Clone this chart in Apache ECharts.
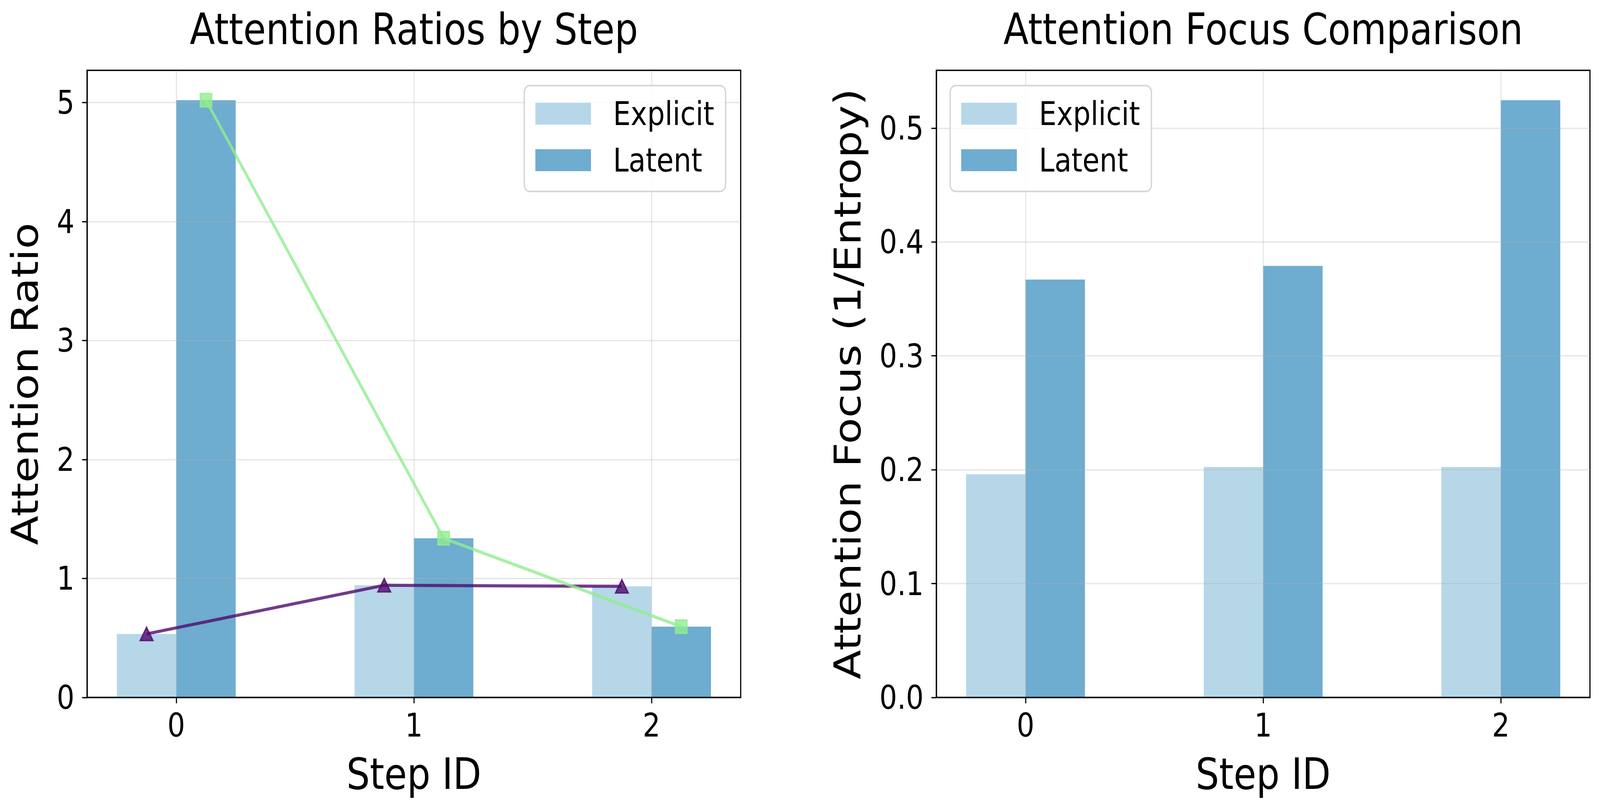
<!DOCTYPE html>
<html><head><meta charset="utf-8">
<script src="https://cdn.jsdelivr.net/npm/echarts@6/dist/echarts.min.js"></script>
<style>html,body{margin:0;padding:0;background:#fff;overflow:hidden}#c{width:4774px;height:2073px;transform-origin:0 0}</style>
</head><body><div id="c"></div>
<script>
// ---- data ----
const steps = [0, 1, 2];
const ratioExplicit = [0.534, 0.943, 0.934];
const ratioLatent = [5.02, 1.338, 0.595];
const focusExplicit = [0.196, 0.2024, 0.2024];
const focusLatent = [0.367, 0.379, 0.5245];
const ratioTicks = [0, 1, 2, 3, 4, 5];
const focusTicks = [0, 0.1, 0.2, 0.3, 0.4, 0.5];
const seriesNames = ['Explicit', 'Latent'];
const titles = ['Attention Ratios by Step', 'Attention Focus Comparison'];
const yNames = ['Attention Ratio', 'Attention Focus (1/Entropy)'];
const xName = 'Step ID';

// ---- style / layout (designed at 4774 x 2073, fitted to the window) ----
const DW = 4774, DH = 2073;
const FF = 'DejaVu Sans';
const C_EXP = '#b6d7e8', C_LAT = '#6eacd0';
const GREEN = 'rgba(144,238,144,0.8)', PURPLE = 'rgba(80,10,110,0.8)';
const BW = 0.25, OFF = BW / 2;
const XMIN = -0.375, XMAX = 2.375;
const grids = [{left: 260, top: 180, width: 1950, height: 1605}, {left: 2794, top: 180, width: 1950, height: 1605}];
const barPx = BW * 1950 / (XMAX - XMIN);

const el = document.getElementById('c');
const sx = (window.innerWidth || DW) / DW, sy = (window.innerHeight || DH) / DH;
el.style.transform = 'scale(' + sx + ',' + sy + ')';

function xAxis(i) {
  return {
    type: 'value', gridIndex: i, min: XMIN, max: XMAX, z: 3,
    name: xName, nameLocation: 'middle', nameGap: 141,
    nameTextStyle: {fontSize: 110, lineHeight: 110, color: '#000', fontFamily: FF},
    axisLine: {show: true, onZero: false, lineStyle: {color: '#000', width: 3.5}},
    axisTick: {show: true, inside: false, length: 15, customValues: steps, lineStyle: {color: '#000', width: 3.3}},
    axisLabel: {show: true, margin: 30, fontSize: 83, lineHeight: 83, color: '#000', fontFamily: FF, customValues: steps, formatter: v => String(Math.round(v))},
    splitLine: {show: true, lineStyle: {color: 'rgba(176,176,176,0.3)', width: 3.3}}
  };
}
function yAxis(i, max, ticks, gap, fmt) {
  return {
    type: 'value', gridIndex: i, min: 0, max: max, z: 3,
    name: yNames[i], nameLocation: 'middle', nameGap: gap,
    nameTextStyle: {fontSize: 110, lineHeight: 110, color: '#000', fontFamily: FF},
    axisLine: {show: true, onZero: false, lineStyle: {color: '#000', width: 3.5}},
    axisTick: {show: true, inside: false, length: 15, customValues: ticks, lineStyle: {color: '#000', width: 3.3}},
    axisLabel: {show: true, margin: 38, fontSize: 83, lineHeight: 83, color: '#000', fontFamily: FF, customValues: ticks, formatter: fmt},
    splitLine: {show: true, lineStyle: {color: 'rgba(176,176,176,0.3)', width: 3.3}}
  };
}
function legend(pos) {
  return Object.assign({
    show: true, orient: 'vertical', top: 219, data: seriesNames, selectedMode: false,
    icon: 'rect', itemWidth: 166, itemHeight: 56, itemGap: 19,
    padding: [22, 34, 30, 33],
    backgroundColor: 'rgba(255,255,255,0.8)', borderColor: 'rgba(204,204,204,0.8)', borderWidth: 4, borderRadius: 17,
    textStyle: {fontSize: 83, lineHeight: 100, color: '#000', fontFamily: FF, padding: [0, 0, 0, 61]},
    z: 6
  }, pos);
}
function bars(i, vals, name, color, shift, last) {
  const s = {
    type: 'bar', name: name, xAxisIndex: i, yAxisIndex: i, barWidth: barPx,
    data: steps.map((st, k) => [st + shift, vals[k]]),
    itemStyle: {color: color}, z: 2, silent: true, animation: false
  };
  if (last) s.barGap = '-100%';
  return s;
}
function line(vals, shift, color, symbol, size) {
  return {
    type: 'line', xAxisIndex: 0, yAxisIndex: 0, z: 4, silent: true, animation: false,
    data: steps.map((st, k) => [st + shift, vals[k]]),
    lineStyle: {color: color, width: 8}, symbol: symbol, symbolSize: size, showSymbol: true,
    itemStyle: {color: color, borderColor: color, borderWidth: 4}
  };
}

const ratioMax = Math.max(...ratioLatent, ...ratioExplicit) * 1.05;
const focusMax = Math.max(...focusLatent, ...focusExplicit) * 1.05;

const option = {
  backgroundColor: '#fff',
  animation: false,
  title: [
    {text: titles[0], left: grids[0].left + grids[0].width / 2, top: 20, textAlign: 'center', padding: 0,
     textStyle: {fontSize: 110, lineHeight: 110, fontWeight: 'normal', color: '#000', fontFamily: FF}},
    {text: titles[1], left: grids[1].left + grids[1].width / 2, top: 20, textAlign: 'center', padding: 0,
     textStyle: {fontSize: 110, lineHeight: 110, fontWeight: 'normal', color: '#000', fontFamily: FF}}
  ],
  legend: [legend({right: DW - 2165}), legend({left: 2835})],
  grid: grids.map(g => Object.assign({show: true, borderColor: '#000', borderWidth: 3.5, backgroundColor: 'transparent', containLabel: false}, g)),
  xAxis: [xAxis(0), xAxis(1)],
  yAxis: [
    yAxis(0, ratioMax, ratioTicks, 130, v => String(Math.round(v))),
    yAxis(1, focusMax, focusTicks, 209, v => v.toFixed(1))
  ],
  series: [
    bars(0, ratioExplicit, seriesNames[0], C_EXP, -OFF, false),
    bars(0, ratioLatent, seriesNames[1], C_LAT, OFF, true),
    line(ratioExplicit, -OFF, PURPLE, 'triangle', [38, 34]),
    line(ratioLatent, OFF, GREEN, 'rect', 34),
    bars(1, focusExplicit, seriesNames[0], C_EXP, -OFF, false),
    bars(1, focusLatent, seriesNames[1], C_LAT, OFF, true)
  ]
};
const chart = echarts.init(el, null, {renderer: 'svg', width: DW, height: DH});
chart.setOption(option);
</script></body></html>
